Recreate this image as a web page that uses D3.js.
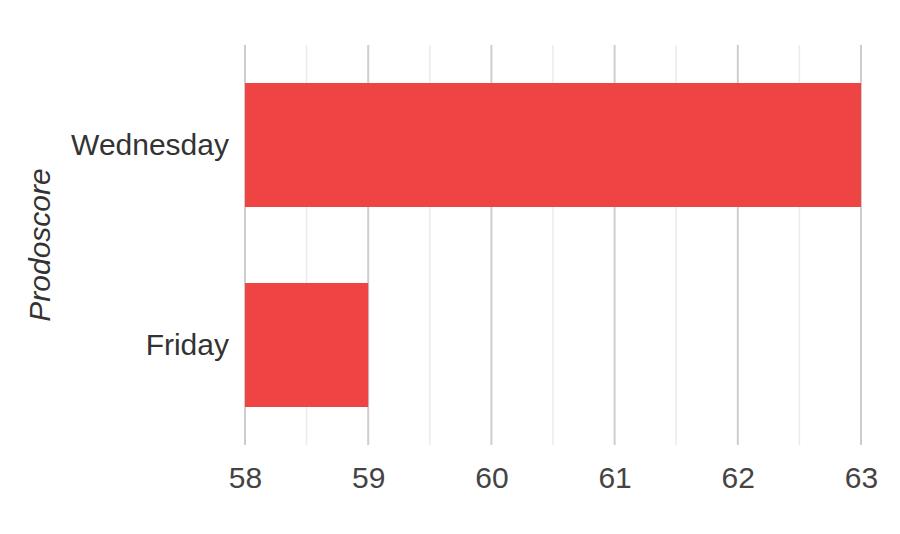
<!DOCTYPE html>
<html lang="en">
<head>
<meta charset="utf-8">
<title>Prodoscore</title>
<script src="https://d3js.org/d3.v7.min.js"></script>
<style>
  body { margin: 0; background: #fff; }
  text { font-family: "Liberation Sans", Arial, sans-serif; }
</style>
</head>
<body>
<script>
// data
var days = ["Wednesday", "Friday"];
var scores = [63, 59];
var xTicks = [58, 59, 60, 61, 62, 63];
var xMin = 58, xMax = 63;

var w = 900, h = 534;
var margin = {top: 45, right: 39, bottom: 89, left: 245};
var innerW = w - margin.left - margin.right;
var innerH = h - margin.top - margin.bottom;

var svg = d3.select("body").append("svg")
  .attr("width", w)
  .attr("height", h);

var g = svg.append("g")
  .attr("transform", "translate(" + margin.left + "," + margin.top + ")");

var x = d3.scaleLinear().domain([xMin, xMax]).range([0, innerW]);
var y = d3.scaleBand().domain(days).range([0, innerH])
  .paddingInner(0.38).paddingOuter(0.19);

// minor gridlines at half steps
var minor = d3.range(xMin + 0.5, xMax, 1);
g.selectAll(".minor").data(minor).enter().append("line")
  .attr("class", "minor")
  .attr("x1", d => x(d)).attr("x2", d => x(d))
  .attr("y1", 0).attr("y2", innerH)
  .attr("stroke", "#ebebeb").attr("stroke-width", 1.5);

// major gridlines
g.selectAll(".major").data(xTicks).enter().append("line")
  .attr("class", "major")
  .attr("x1", d => x(d)).attr("x2", d => x(d))
  .attr("y1", 0).attr("y2", innerH)
  .attr("stroke", "#cdcdcd").attr("stroke-width", 2);

// bars
g.selectAll(".bar").data(days).enter().append("rect")
  .attr("class", "bar")
  .attr("x", x(xMin))
  .attr("y", d => y(d))
  .attr("width", (d, i) => x(scores[i]) - x(xMin))
  .attr("height", y.bandwidth())
  .attr("fill", "#ef4444");

// x axis labels
var xAxis = g.append("g")
  .attr("transform", "translate(0," + innerH + ")")
  .call(d3.axisBottom(x).tickValues(xTicks).tickSize(0).tickPadding(22).tickFormat(d3.format("d")));
xAxis.select(".domain").remove();
xAxis.selectAll("text")
  .attr("fill", "#444")
  .style("font-size", "30px");

// y axis labels
var yAxis = g.append("g")
  .call(d3.axisLeft(y).tickSize(0).tickPadding(16));
yAxis.select(".domain").remove();
yAxis.selectAll("text")
  .attr("fill", "#333")
  .style("font-size", "30px");

// y axis title
svg.append("text")
  .attr("transform", "translate(50," + (margin.top + innerH / 2) + ") rotate(-90)")
  .attr("text-anchor", "middle")
  .attr("fill", "#333")
  .style("font-size", "30px")
  .style("font-style", "italic")
  .text("Prodoscore");
</script>
</body>
</html>
